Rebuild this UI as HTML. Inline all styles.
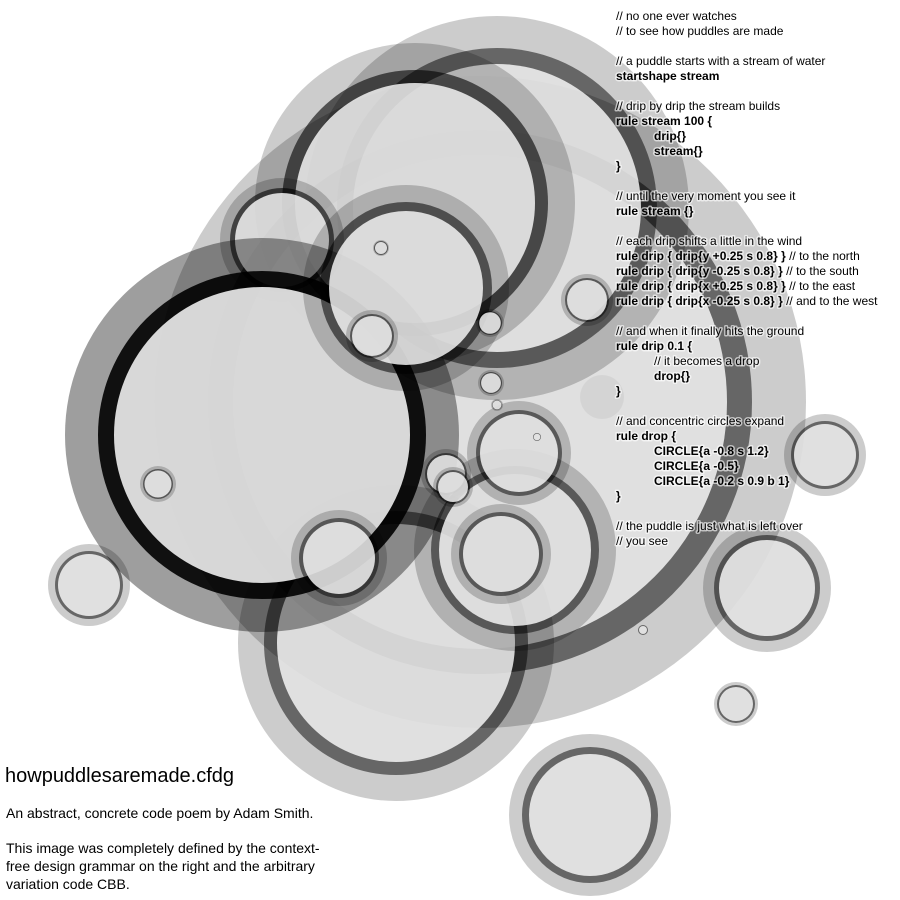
<!DOCTYPE html>
<html><head><meta charset="utf-8"><style>
html,body{margin:0;padding:0;background:#fff;}
svg{display:block;}
.c{font-family:"Liberation Sans",Arial,sans-serif;font-size:12px;fill:#000;paint-order:stroke;stroke:#fff;stroke-opacity:0.6;stroke-width:3px;stroke-linejoin:round;}
.b{font-weight:bold;}
.t{font-family:"Liberation Sans",Arial,sans-serif;fill:#000;}
</style></head><body>
<svg width="900" height="900" viewBox="0 0 900 900" xmlns="http://www.w3.org/2000/svg">
<g>
<circle cx="273" cy="477" r="96" fill="#000" fill-opacity="0.04"/>
<circle cx="273" cy="477" r="80" fill="#000" fill-opacity="0.06"/>
<!-- giant -->
<circle cx="480" cy="402" r="326" fill="#000" fill-opacity="0.2"/>
<circle cx="480" cy="402" r="272" fill="#000" fill-opacity="0.5"/>
<circle cx="480" cy="402" r="247" fill="#fff" fill-opacity="0.8"/>
<!-- D -->
<circle cx="497" cy="208" r="192" fill="#000" fill-opacity="0.2"/>
<circle cx="497" cy="208" r="160" fill="#000" fill-opacity="0.5"/>
<circle cx="497" cy="208" r="144" fill="#fff" fill-opacity="0.8"/>
<!-- G -->
<circle cx="396" cy="643" r="158" fill="#000" fill-opacity="0.2"/>
<circle cx="396" cy="643" r="132" fill="#000" fill-opacity="0.5"/>
<circle cx="396" cy="643" r="119" fill="#fff" fill-opacity="0.8"/>
<!-- X -->
<circle cx="515" cy="550" r="101" fill="#000" fill-opacity="0.2"/>
<circle cx="515" cy="550" r="84" fill="#000" fill-opacity="0.5"/>
<circle cx="515" cy="550" r="76" fill="#fff" fill-opacity="0.8"/>
<!-- B -->
<circle cx="415" cy="203" r="160" fill="#000" fill-opacity="0.2"/>
<circle cx="415" cy="203" r="133" fill="#000" fill-opacity="0.6"/>
<circle cx="415" cy="203" r="120" fill="#fff" fill-opacity="0.8"/>
<!-- T -->
<circle cx="282" cy="240" r="62" fill="#000" fill-opacity="0.2"/>
<circle cx="282" cy="240" r="52" fill="#000" fill-opacity="0.6"/>
<circle cx="282" cy="240" r="47" fill="#fff" fill-opacity="0.8"/>
<!-- A (darker, stacked) -->
<circle cx="262" cy="435" r="197" fill="#000" fill-opacity="0.38"/>
<circle cx="262" cy="435" r="164" fill="#000" fill-opacity="0.9"/>
<circle cx="262" cy="435" r="148" fill="#fff" fill-opacity="0.84"/>
<!-- Y -->
<circle cx="339" cy="558" r="48" fill="#000" fill-opacity="0.2"/>
<circle cx="339" cy="558" r="40" fill="#000" fill-opacity="0.5"/>
<circle cx="339" cy="558" r="36" fill="#fff" fill-opacity="0.8"/>
<!-- S -->
<circle cx="406" cy="288" r="103" fill="#000" fill-opacity="0.2"/>
<circle cx="406" cy="288" r="86" fill="#000" fill-opacity="0.55"/>
<circle cx="406" cy="288" r="77" fill="#fff" fill-opacity="0.8"/>
<!-- W -->
<circle cx="501" cy="554" r="50" fill="#000" fill-opacity="0.2"/>
<circle cx="501" cy="554" r="42" fill="#000" fill-opacity="0.5"/>
<circle cx="501" cy="554" r="38" fill="#fff" fill-opacity="0.8"/>
<!-- P -->
<circle cx="519" cy="453" r="52" fill="#000" fill-opacity="0.2"/>
<circle cx="519" cy="453" r="43" fill="#000" fill-opacity="0.5"/>
<circle cx="519" cy="453" r="39" fill="#fff" fill-opacity="0.8"/>
<!-- U -->
<circle cx="446" cy="474" r="25" fill="#000" fill-opacity="0.2"/>
<circle cx="446" cy="474" r="21" fill="#000" fill-opacity="0.5"/>
<circle cx="446" cy="474" r="19" fill="#fff" fill-opacity="0.8"/>
<circle cx="453" cy="487" r="20" fill="#000" fill-opacity="0.2"/>
<circle cx="453" cy="487" r="17" fill="#000" fill-opacity="0.5"/>
<circle cx="453" cy="487" r="15" fill="#fff" fill-opacity="0.8"/>
<!-- R -->
<circle cx="372" cy="336" r="26" fill="#000" fill-opacity="0.2"/>
<circle cx="372" cy="336" r="22" fill="#000" fill-opacity="0.5"/>
<circle cx="372" cy="336" r="20" fill="#fff" fill-opacity="0.8"/>
<!-- Q -->
<circle cx="381" cy="248" r="8" fill="#000" fill-opacity="0.2"/>
<circle cx="381" cy="248" r="7" fill="#000" fill-opacity="0.5"/>
<circle cx="381" cy="248" r="6" fill="#fff" fill-opacity="0.8"/>
<!-- F -->
<circle cx="158" cy="484" r="18" fill="#000" fill-opacity="0.2"/>
<circle cx="158" cy="484" r="15" fill="#000" fill-opacity="0.5"/>
<circle cx="158" cy="484" r="13.5" fill="#fff" fill-opacity="0.8"/>
<!-- E -->
<circle cx="89" cy="585" r="41" fill="#000" fill-opacity="0.2"/>
<circle cx="89" cy="585" r="34" fill="#000" fill-opacity="0.5"/>
<circle cx="89" cy="585" r="31" fill="#fff" fill-opacity="0.8"/>
<!-- L -->
<circle cx="587" cy="300" r="26" fill="#000" fill-opacity="0.2"/>
<circle cx="587" cy="300" r="22" fill="#000" fill-opacity="0.5"/>
<circle cx="587" cy="300" r="20" fill="#fff" fill-opacity="0.8"/>
<!-- M N O -->
<circle cx="490" cy="323" r="14" fill="#000" fill-opacity="0.2"/>
<circle cx="490" cy="323" r="12" fill="#000" fill-opacity="0.5"/>
<circle cx="490" cy="323" r="10.8" fill="#fff" fill-opacity="0.8"/>
<circle cx="491" cy="383" r="13" fill="#000" fill-opacity="0.2"/>
<circle cx="491" cy="383" r="11" fill="#000" fill-opacity="0.5"/>
<circle cx="491" cy="383" r="9.9" fill="#fff" fill-opacity="0.8"/>
<circle cx="497" cy="405" r="6" fill="#000" fill-opacity="0.2"/>
<circle cx="497" cy="405" r="5" fill="#000" fill-opacity="0.5"/>
<circle cx="497" cy="405" r="4.5" fill="#fff" fill-opacity="0.8"/>
<circle cx="602" cy="397" r="22" fill="#000" fill-opacity="0.05"/>
<circle cx="643" cy="630" r="5" fill="#000" fill-opacity="0.5"/>
<circle cx="643" cy="630" r="4" fill="#fff" fill-opacity="0.8"/>
<circle cx="537" cy="437" r="4" fill="#000" fill-opacity="0.5"/>
<circle cx="537" cy="437" r="3.3" fill="#fff" fill-opacity="0.8"/>
<!-- K -->
<circle cx="825" cy="455" r="41" fill="#000" fill-opacity="0.2"/>
<circle cx="825" cy="455" r="34" fill="#000" fill-opacity="0.5"/>
<circle cx="825" cy="455" r="31" fill="#fff" fill-opacity="0.8"/>
<!-- I -->
<circle cx="767" cy="588" r="64" fill="#000" fill-opacity="0.2"/>
<circle cx="767" cy="588" r="53" fill="#000" fill-opacity="0.5"/>
<circle cx="767" cy="588" r="48" fill="#fff" fill-opacity="0.8"/>
<!-- J -->
<circle cx="736" cy="704" r="22" fill="#000" fill-opacity="0.2"/>
<circle cx="736" cy="704" r="19" fill="#000" fill-opacity="0.5"/>
<circle cx="736" cy="704" r="17" fill="#fff" fill-opacity="0.8"/>
<!-- H -->
<circle cx="590" cy="815" r="81" fill="#000" fill-opacity="0.2"/>
<circle cx="590" cy="815" r="68" fill="#000" fill-opacity="0.5"/>
<circle cx="590" cy="815" r="61" fill="#fff" fill-opacity="0.8"/>
</g>
<g>
<text class="c" x="616" y="20">// no one ever watches</text>
<text class="c" x="616" y="35">// to see how puddles are made</text>
<text class="c" x="616" y="65">// a puddle starts with a stream of water</text>
<text class="c b" x="616" y="80">startshape stream</text>
<text class="c" x="616" y="110">// drip by drip the stream builds</text>
<text class="c b" x="616" y="125">rule stream 100 {</text>
<text class="c b" x="654" y="140">drip{}</text>
<text class="c b" x="654" y="155">stream{}</text>
<text class="c b" x="616" y="170">}</text>
<text class="c" x="616" y="200">// until the very moment you see it</text>
<text class="c b" x="616" y="215">rule stream {}</text>
<text class="c" x="616" y="245">// each drip shifts a little in the wind</text>
<text class="c" x="616" y="260"><tspan class="b">rule drip { drip{y +0.25 s 0.8} }</tspan> // to the north</text>
<text class="c" x="616" y="275"><tspan class="b">rule drip { drip{y -0.25 s 0.8} }</tspan> // to the south</text>
<text class="c" x="616" y="290"><tspan class="b">rule drip { drip{x +0.25 s 0.8} }</tspan> // to the east</text>
<text class="c" x="616" y="305"><tspan class="b">rule drip { drip{x -0.25 s 0.8} }</tspan> // and to the west</text>
<text class="c" x="616" y="335">// and when it finally hits the ground</text>
<text class="c b" x="616" y="350">rule drip 0.1 {</text>
<text class="c" x="654" y="365">// it becomes a drop</text>
<text class="c b" x="654" y="380">drop{}</text>
<text class="c b" x="616" y="395">}</text>
<text class="c" x="616" y="425">// and concentric circles expand</text>
<text class="c b" x="616" y="440">rule drop {</text>
<text class="c b" x="654" y="455">CIRCLE{a -0.8 s 1.2}</text>
<text class="c b" x="654" y="470">CIRCLE{a -0.5}</text>
<text class="c b" x="654" y="485">CIRCLE{a -0.2 s 0.9 b 1}</text>
<text class="c b" x="616" y="500">}</text>
<text class="c" x="616" y="530">// the puddle is just what is left over</text>
<text class="c" x="616" y="545">// you see</text>
</g>
<text class="t" x="5" y="782" font-size="20">howpuddlesaremade.cfdg</text>
<text class="t" x="6" y="818" font-size="14">An abstract, concrete code poem by Adam Smith.</text>
<text class="t" x="6" y="853" font-size="14">This image was completely defined by the context-</text>
<text class="t" x="6" y="871" font-size="14">free design grammar on the right and the arbitrary</text>
<text class="t" x="6" y="889" font-size="14">variation code CBB.</text>
</svg>
</body></html>
